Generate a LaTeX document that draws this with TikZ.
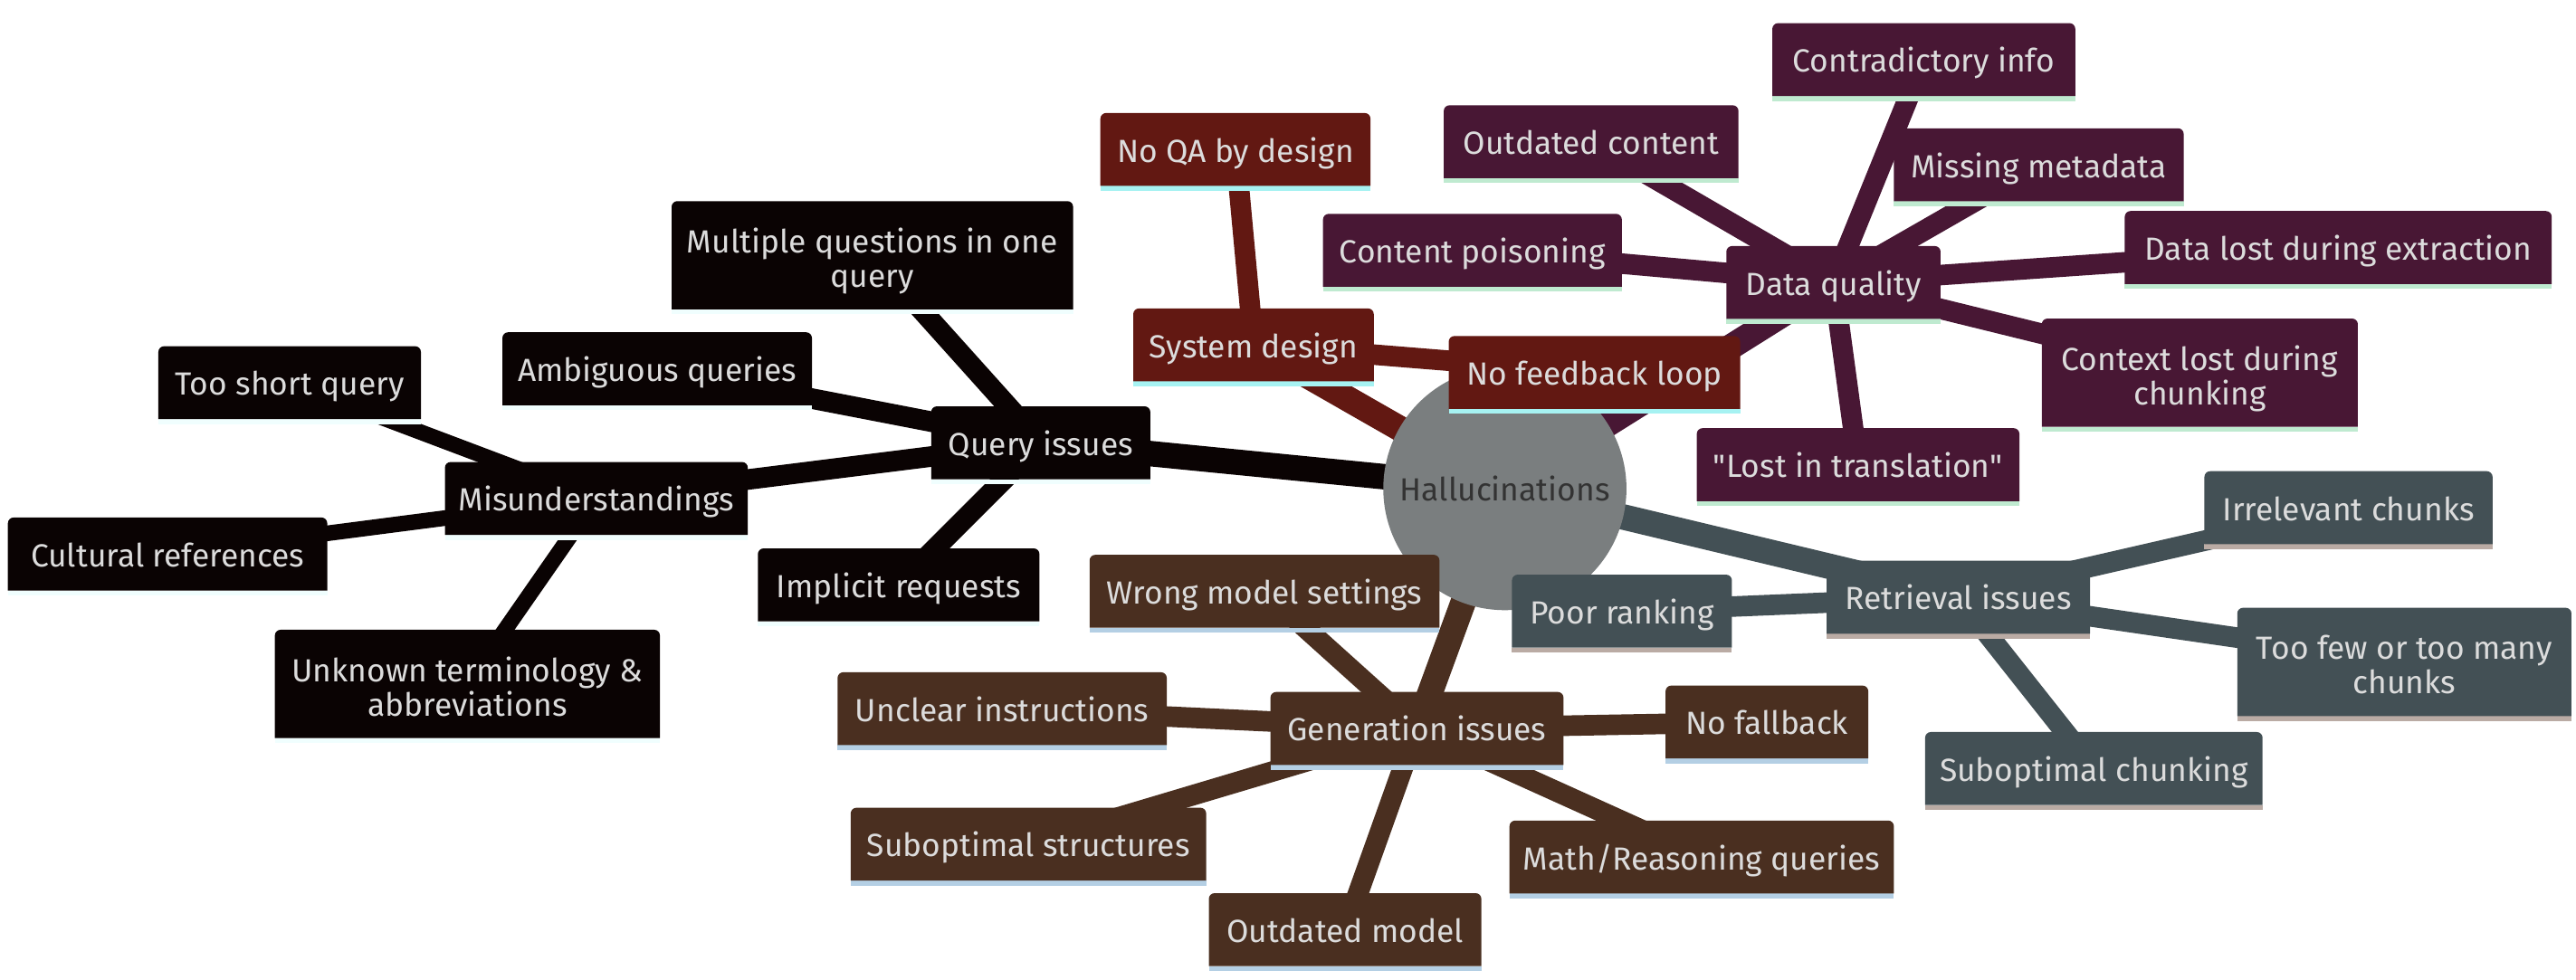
\documentclass[tikz,border=0pt]{standalone}
\usepackage{fontspec}
\setmainfont{Fira Sans}
\definecolor{qcol}{HTML}{0A0303}
\definecolor{qstr}{HTML}{F0FEFE}
\definecolor{scol}{HTML}{621812}
\definecolor{sstr}{HTML}{A6F2F2}
\definecolor{dcol}{HTML}{481734}
\definecolor{dstr}{HTML}{BFEAD0}
\definecolor{rcol}{HTML}{435055}
\definecolor{rstr}{HTML}{BAABA4}
\definecolor{gcol}{HTML}{4A2F20}
\definecolor{gstr}{HTML}{B4CFE4}
\definecolor{rootc}{HTML}{7A7E7F}
\definecolor{txtc}{HTML}{DCDCDC}
\definecolor{roottxt}{HTML}{333333}
\newcommand\mmfont{\fontsize{19.5}{21}\selectfont}
\pgfdeclarelayer{edgelayer}
\pgfdeclarelayer{rootlayer}
\pgfdeclarelayer{boxlayer}
\pgfsetlayers{edgelayer,rootlayer,boxlayer,main}
\newcommand\mmbox[3]{%
  \begin{pgfonlayer}{boxlayer}
    \fill[#3] (#1.south west) rectangle ([yshift=-3pt]#1.south east);
    \fill[#2] (#1.south west) -- ([yshift=-3.5pt]#1.north west)
      arc[start angle=180,end angle=90,radius=3.5pt]
      -- ([xshift=-3.5pt]#1.north east)
      arc[start angle=90,end angle=0,radius=3.5pt]
      -- (#1.south east) -- cycle;
  \end{pgfonlayer}}
\tikzset{
  mmleaf/.style={inner sep=0pt, minimum height=44pt, text=txtc, font=\mmfont, align=center, text height=15.4pt, text depth=0pt},
  mmtwo/.style={mmleaf, minimum height=65.5pt, text height=44pt, text depth=5pt},
  eA/.style={line width=15.5pt},
  eB/.style={line width=12.5pt},
  eC/.style={line width=9.5pt}
}
\begin{document}
\begin{tikzpicture}[x=1pt,y=-1pt]
\useasboundingbox (0,0) rectangle (1568,596.13);
% root
\node[circle, inner sep=0pt, minimum size=148pt, text=roottxt, font=\mmfont, text height=15.4pt, text depth=0pt] (root) at (916,297.5) {Hallucinations};
\begin{pgfonlayer}{rootlayer}
  \fill[rootc] (root.center) circle[radius=74pt];
\end{pgfonlayer}
% query issues
\node[mmleaf, minimum width=133pt] (qi) at (633.5,269.6) {Query issues};
\node[mmtwo, minimum width=244pt] (mq) at (531,155.4) {Multiple questions in one\\query};
\node[mmleaf, minimum width=188pt] (aq) at (400,224.5) {Ambiguous queries};
\node[mmleaf, minimum width=159.4pt] (ts) at (176.3,233) {Too short query};
\node[mmleaf, minimum width=184pt] (mu) at (363,303.5) {Misunderstandings};
\node[mmleaf, minimum width=194pt] (cr) at (102,337.3) {Cultural references};
\node[mmtwo, minimum width=234pt] (ut) at (284.5,416.4) {Unknown terminology \&\\abbreviations};
\node[mmleaf, minimum width=171pt] (ir) at (547,356.1) {Implicit requests};
% system design
\node[mmleaf, minimum width=164pt] (nq) at (752,91) {No QA by design};
\node[mmleaf, minimum width=146pt] (sd) at (763,210) {System design};
\node[mmleaf, minimum width=177pt] (nf) at (970.5,226.8) {No feedback loop};
% data quality
\node[mmleaf, minimum width=130pt] (dq) at (1116,172) {Data quality};
\node[mmleaf, minimum width=184pt] (ci) at (1171,36.3) {Contradictory info};
\node[mmleaf, minimum width=179pt] (oc) at (968.5,86.3) {Outdated content};
\node[mmleaf, minimum width=176pt] (mm) at (1241,100.3) {Missing metadata};
\node[mmleaf, minimum width=181.5pt] (cp) at (896.25,152.4) {Content poisoning};
\node[mmleaf, minimum width=259.5pt] (dl) at (1423.25,150.7) {Data lost during extraction};
\node[mmtwo, minimum width=192pt] (cl) at (1339,226.9) {Context lost during\\chunking};
\node[mmleaf, minimum width=196pt] (lt) at (1131,282.9) {\textquotedbl Lost in translation\textquotedbl};
% retrieval
\node[mmleaf, minimum width=160pt] (ri) at (1192,363.6) {Retrieval issues};
\node[mmleaf, minimum width=175pt] (ic) at (1429.5,309.1) {Irrelevant chunks};
\node[mmtwo, minimum width=203pt] (tf) at (1463.5,403) {Too few or too many\\chunks};
\node[mmleaf, minimum width=133.5pt] (pr) at (987.25,372.1) {Poor ranking};
\node[mmleaf, minimum width=205pt] (sc) at (1274.5,467.9) {Suboptimal chunking};
% generation
\node[mmleaf, minimum width=178pt] (gi) at (862.5,443.5) {Generation issues};
\node[mmleaf, minimum width=212.6pt] (wm) at (769.7,360) {Wrong model settings};
\node[mmleaf, minimum width=200pt] (ui) at (610,431.5) {Unclear instructions};
\node[mmleaf, minimum width=216pt] (ss) at (626,514) {Suboptimal structures};
\node[mmleaf, minimum width=165.5pt] (om) at (818.75,566) {Outdated model};
\node[mmleaf, minimum width=123pt] (nb) at (1075.5,439.6) {No fallback};
\node[mmleaf, minimum width=233.6pt] (mr) at (1035.8,521.8) {Math/Reasoning queries};
% boxes
\foreach \n in {qi,mq,aq,ts,mu,cr,ut,ir}{\mmbox{\n}{qcol}{qstr}}
\foreach \n in {nq,sd,nf}{\mmbox{\n}{scol}{sstr}}
\foreach \n in {dq,ci,oc,mm,cp,dl,cl,lt}{\mmbox{\n}{dcol}{dstr}}
\foreach \n in {ri,ic,tf,pr,sc}{\mmbox{\n}{rcol}{rstr}}
\foreach \n in {gi,wm,ui,ss,om,nb,mr}{\mmbox{\n}{gcol}{gstr}}
% edges
\begin{pgfonlayer}{edgelayer}
  \draw[eA, qcol] (root.center) -- (qi.center);
  \draw[eA, scol] (root.center) -- (sd.center);
  \draw[eA, dcol] (root.center) -- (dq.center);
  \draw[eA, rcol] (root.center) -- (ri.center);
  \draw[eA, gcol] (root.center) -- (gi.center);
  \foreach \n in {mq,aq,mu,ir}{\draw[eB, qcol] (qi.center) -- (\n.center);}
  \foreach \n in {ts,cr,ut}{\draw[eC, qcol] (mu.center) -- (\n.center);}
  \foreach \n in {nq,nf}{\draw[eB, scol] (sd.center) -- (\n.center);}
  \foreach \n in {ci,oc,mm,cp,dl,cl,lt}{\draw[eB, dcol] (dq.center) -- (\n.center);}
  \foreach \n in {ic,tf,pr,sc}{\draw[eB, rcol] (ri.center) -- (\n.center);}
  \foreach \n in {wm,ui,ss,om,nb,mr}{\draw[eB, gcol] (gi.center) -- (\n.center);}
\end{pgfonlayer}
\end{tikzpicture}
\end{document}
